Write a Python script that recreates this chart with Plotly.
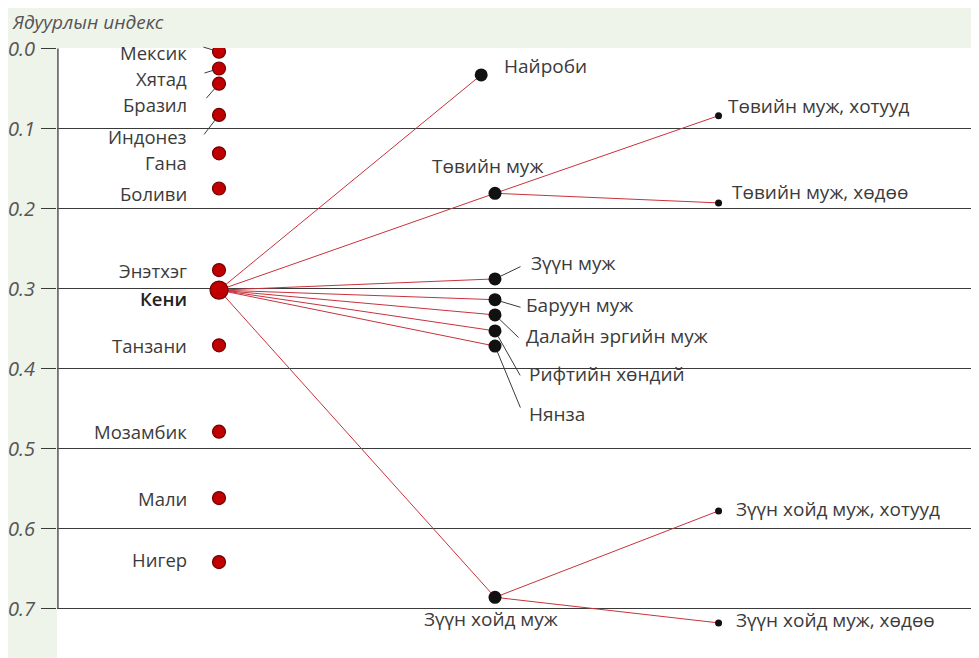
import plotly.graph_objects as go

# ---------------------------------------------------------------------------
# Data: poverty index values
# ---------------------------------------------------------------------------
COUNTRIES = ["Мексик", "Хятад", "Бразил", "Индонез", "Гана", "Боливи",
             "Энэтхэг", "Кени", "Танзани", "Мозамбик", "Мали", "Нигер"]
COUNTRY_INDEX = [0.004, 0.025, 0.044, 0.083, 0.131, 0.175,
                 0.277, 0.302, 0.371, 0.479, 0.562, 0.642]

REGIONS = ["Найроби", "Төвийн муж", "Зүүн муж", "Баруун муж",
           "Далайн эргийн муж", "Рифтийн хөндий", "Нянза", "Зүүн хойд муж"]
REGION_INDEX = [0.033, 0.181, 0.288, 0.314, 0.333, 0.353, 0.372, 0.686]

SUBREGIONS = ["Төвийн муж, хотууд", "Төвийн муж, хөдөө",
              "Зүүн хойд муж, хотууд", "Зүүн хойд муж, хөдөө"]
SUBREGION_PARENT = ["Төвийн муж", "Төвийн муж", "Зүүн хойд муж", "Зүүн хойд муж"]
SUBREGION_INDEX = [0.084, 0.193, 0.578, 0.718]

Y_TICKS = [0.0, 0.1, 0.2, 0.3, 0.4, 0.5, 0.6, 0.7]
Y_TICK_TEXT = ["0.0", "0.1", "0.2", "0.3", "0.4", "0.5", "0.6", "0.7"]
Y_TITLE = "Ядуурлын индекс"
FOCUS = "Кени"

# ---------------------------------------------------------------------------
# Layout / style
# ---------------------------------------------------------------------------
FONT = "Open Sans"
TXT = "#3b3b3b"
GRID = "#3a3a3a"
RED = "#c00000"
LINK = "#c8323c"
BG = "#eff4ea"

COL_COUNTRY, COL_REGION, COL_SUB = 1.0, 2.0, 2.81
X_NUDGE = {"Найроби": -0.05}

# label offsets in pixels (xshift / yshift) and leader tails (ax, ay)
COUNTRY_YSHIFT = [-1, -10, -21, -22, -9, -5, 0, -8, 0, 0, 0, 3]
COUNTRY_LEADER = {"Мексик": (-17, -5), "Хятад": (-16, 5),
                  "Бразил": (-14, 16), "Индонез": (-16, 21)}
REGION_LABEL = {
    "Найроби": ("left", 22, 9),
    "Төвийн муж": ("center", -8, 27),
    "Зүүн муж": ("left", 35, 16),
    "Баруун муж": ("left", 30, -5),
    "Далайн эргийн муж": ("left", 30, -21),
    "Рифтийн хөндий": ("left", 33, -43),
    "Нянза": ("left", 33, -68),
    "Зүүн хойд муж": ("center", -4, -22),
}
REGION_LEADER = {"Зүүн муж": (27, -13), "Баруун муж": (27, 8),
                 "Далайн эргийн муж": (25, 24), "Рифтийн хөндий": (26, 46),
                 "Нянза": (26, 63)}
SUB_XSHIFT = [8, 12, 16, 16]
SUB_YSHIFT = [10, 11, 2, 3]

# page is drawn with the browser's 8px body margin
W, H = 971, 650
ML, MT = 49, 40
PW, PH = W - ML, H - MT

region_x = [COL_REGION + X_NUDGE.get(r, 0.0) for r in REGIONS]
region_pos = dict(zip(REGIONS, zip(region_x, REGION_INDEX)))
kenya_y = COUNTRY_INDEX[COUNTRIES.index(FOCUS)]

fig = go.Figure()

# red links: Kenya -> regions, regions -> urban/rural
lx, ly = [], []
for x, y in zip(region_x, REGION_INDEX):
    lx += [COL_COUNTRY, x, None]
    ly += [kenya_y, y, None]
for parent, y in zip(SUBREGION_PARENT, SUBREGION_INDEX):
    px_, py_ = region_pos[parent]
    lx += [px_, COL_SUB, None]
    ly += [py_, y, None]
fig.add_trace(go.Scatter(x=lx, y=ly, mode="lines",
                         line=dict(color=LINK, width=1), hoverinfo="skip"))

# countries
fig.add_trace(go.Scatter(
    x=[COL_COUNTRY] * len(COUNTRIES), y=COUNTRY_INDEX, mode="markers",
    text=COUNTRIES, hovertemplate="%{text}: %{y:.3f}<extra></extra>",
    marker=dict(color=RED, opacity=1, line=dict(color="#700000", width=1.2),
                size=[18 if c == FOCUS else 13 for c in COUNTRIES]),
))
# regions
fig.add_trace(go.Scatter(
    x=region_x, y=REGION_INDEX, mode="markers", text=REGIONS,
    hovertemplate="%{text}: %{y:.3f}<extra></extra>",
    marker=dict(color="#111111", size=13, opacity=1),
))
# urban / rural
fig.add_trace(go.Scatter(
    x=[COL_SUB] * len(SUBREGIONS), y=SUBREGION_INDEX, mode="markers",
    text=SUBREGIONS, hovertemplate="%{text}: %{y:.3f}<extra></extra>",
    marker=dict(color="#111111", size=7, opacity=1),
))

ann = []
lbl = dict(family=FONT, size=19, color=TXT)
for name, y, ys in zip(COUNTRIES, COUNTRY_INDEX, COUNTRY_YSHIFT):
    f = dict(lbl, size=18.5)
    if name == FOCUS:
        f.update(weight=600, color="#222222")
    ann.append(dict(x=COL_COUNTRY, y=y, text=name, showarrow=False,
                    xanchor="right", yanchor="middle", xshift=-31, yshift=ys,
                    font=f, borderpad=0))
    if name in COUNTRY_LEADER:
        ax, ay = COUNTRY_LEADER[name]
        ann.append(dict(x=COL_COUNTRY, y=y, text="", showarrow=True,
                        arrowhead=0, arrowwidth=1, arrowcolor=GRID,
                        ax=ax, ay=ay, standoff=6))

for name, x, y in zip(REGIONS, region_x, REGION_INDEX):
    xa, xs, ys = REGION_LABEL[name]
    ann.append(dict(x=x, y=y, text=name, showarrow=False, xanchor=xa,
                    yanchor="middle", xshift=xs, yshift=ys, font=lbl,
                    borderpad=0))
    if name in REGION_LEADER:
        ax, ay = REGION_LEADER[name]
        ann.append(dict(x=x, y=y, text="", showarrow=True, arrowhead=0,
                        arrowwidth=1, arrowcolor=GRID, ax=ax, ay=ay,
                        standoff=6))

for name, y, xs, ys in zip(SUBREGIONS, SUBREGION_INDEX, SUB_XSHIFT, SUB_YSHIFT):
    ann.append(dict(x=COL_SUB, y=y, text=name, showarrow=False,
                    xanchor="left", yanchor="middle", xshift=xs, yshift=ys,
                    font=lbl, borderpad=0))

ann.append(dict(xref="paper", yref="paper", x=-46 / PW, y=1 + 26 / PH,
                text=Y_TITLE, showarrow=False, xanchor="left",
                yanchor="middle", borderpad=0,
                font=dict(family=FONT, size=19, color="#555555",
                          style="italic")))

shapes = [
    # left axis line from 0.0 to 0.7
    dict(type="line", xref="paper", yref="y", x0=0.001, x1=0.001,
         y0=Y_TICKS[0], y1=Y_TICKS[-1], line=dict(color="#555555", width=1.5)),
]

fig.update_layout(
    width=W, height=H,
    margin=dict(l=ML, r=0, t=MT, b=0),
    paper_bgcolor=BG, plot_bgcolor="white",
    showlegend=False, hovermode="closest",
    annotations=ann, shapes=shapes,
    xaxis=dict(range=[1 - 162 / 276, 1 + 760 / 276], visible=False,
               fixedrange=True),
    yaxis=dict(range=[(PH - 0.5) / 800, -0.5 / 800],
               tickvals=Y_TICKS, ticktext=Y_TICK_TEXT,
               showgrid=True, gridcolor=GRID, gridwidth=1.2,
               ticks="outside", ticklen=15, tickcolor=GRID, tickwidth=1.2,
               zeroline=False, showline=False, ticklabelstandoff=2,
               tickfont=dict(family=FONT, size=20, color="#555555",
                             style="italic"),
               fixedrange=True),
)

fig.write_html("out.html")
